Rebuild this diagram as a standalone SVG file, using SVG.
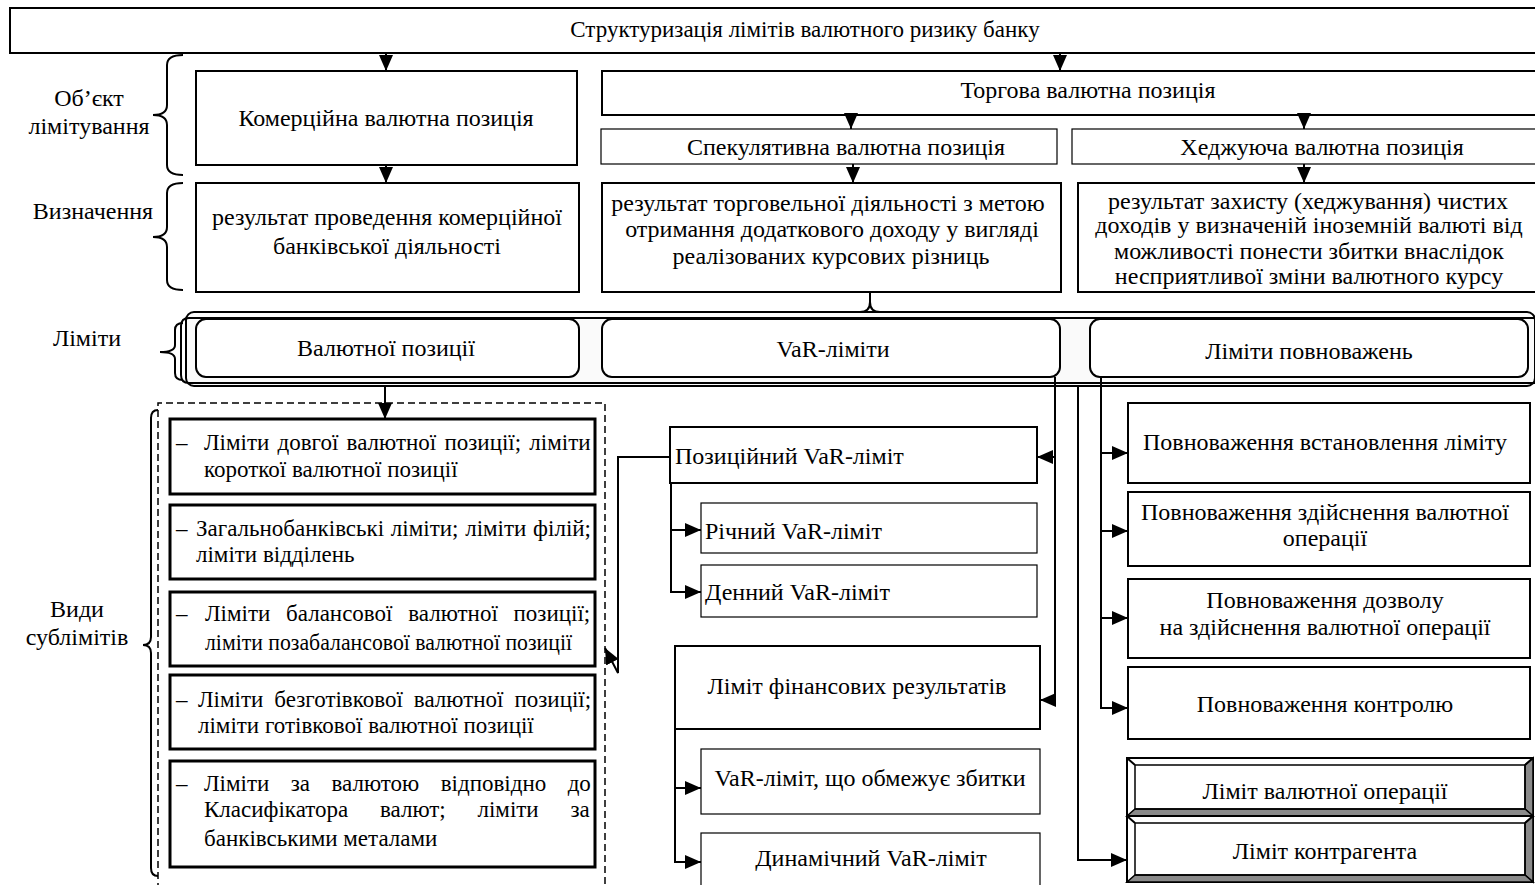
<svg xmlns="http://www.w3.org/2000/svg" width="1535" height="885" viewBox="0 0 1535 885">
<defs>
<style>
.t{font-family:"Liberation Serif","Times New Roman",serif;font-size:24px;fill:#000}
.s{font-family:"Liberation Serif","Times New Roman",serif;font-size:23px;fill:#000}
.ttl{font-size:23px}
.m{text-anchor:middle}
.bx{fill:#fff;stroke:#000;stroke-width:2}
.thin{stroke-width:1.2}
.thick{stroke-width:3}
.c{fill:none;stroke:#000;stroke-width:2}
.cm{fill:none;stroke:#000;stroke-width:2;marker-end:url(#ah)}
.br{fill:none;stroke:#000;stroke-width:2}
.bev{fill:#8a8a8a;stroke:#000;stroke-width:1.5}
</style>
<marker id="ah" markerWidth="16" markerHeight="14" refX="16" refY="7" orient="auto" markerUnits="userSpaceOnUse"><path d="M0,0 L16,7 L0,14 Z" fill="#000"/></marker>
</defs>
<rect width="1535" height="885" fill="#fff"/>

<g id="labels">
<text class="t m" x="89" y="106">Об’єкт</text>
<text class="t m" x="89" y="134">лімітування</text>
<text class="t m" x="93" y="219">Визначення</text>
<text class="t m" x="87" y="346">Ліміти</text>
<text class="t m" x="77" y="617">Види</text>
<text class="t m" x="77" y="645">сублімітів</text>
</g>

<g id="braces">
<path class="br" d="M183,55 Q167,55 167,65 V105 Q167,115 153,115 Q167,115 167,125 V165 Q167,175 183,175"/>
<path class="br" d="M183,183 Q167,183 167,193 V227 Q167,237 153,237 Q167,237 167,247 V280 Q167,290 183,290"/>
<path class="br" d="M183,323 Q175,323 175,330 V345 Q175,352 160,352 Q175,352 175,359 V373 Q175,380 183,380"/>
<path class="br" d="M158,410 Q151,410 151,418 V637 Q151,645 143,645 Q151,645 151,653 V868 Q151,876 158,876"/>
</g>

<g id="title">
<rect class="bx" x="10" y="8" width="1540" height="45"/>
<text class="t ttl m" x="805" y="37">Структуризація лімітів валютного ризику банку</text>
</g>

<g id="commercial">
<rect class="bx" x="196" y="71" width="381" height="94"/>
<text class="t m" x="386" y="126">Комерційна валютна позиція</text>
</g>
<g id="def-commercial">
<rect class="bx" x="196" y="183" width="383" height="109"/>
<text class="t m" x="387" y="225">результат проведення комерційної</text>
<text class="t m" x="387" y="254">банківської діяльності</text>
</g>

<g id="trading">
<rect class="bx" x="602" y="71" width="945" height="44"/>
<text class="t m" x="1088" y="98">Торгова валютна позиція</text>
</g>
<g id="speculative">
<rect class="bx thin" x="601" y="129" width="456" height="35"/>
<text class="t m" x="846" y="155">Спекулятивна валютна позиція</text>
</g>
<g id="hedging">
<rect class="bx thin" x="1072" y="129" width="475" height="35"/>
<text class="t m" x="1322" y="155">Хеджуюча валютна позиція</text>
</g>
<g id="def-speculative">
<rect class="bx" x="602" y="183" width="459" height="109"/>
<text class="t m" x="828" y="211">результат торговельної діяльності з метою</text>
<text class="t m" x="832" y="237">отримання додаткового доходу у вигляді</text>
<text class="t m" x="831" y="264">реалізованих курсових різниць</text>
</g>
<g id="def-hedging">
<rect class="bx" x="1078" y="183" width="470" height="109"/>
<text class="t m" x="1308" y="209">результат захисту (хеджування) чистих</text>
<text class="t m" x="1309" y="233">доходів у визначеній іноземній валюті від</text>
<text class="t m" x="1309" y="259">можливості понести збитки внаслідок</text>
<text class="t m" x="1309" y="284">несприятливої зміни валютного курсу</text>
</g>

<g id="limits-frame">
<path class="c" d="M860,312 Q870,312 870,302 V293 M880,312 Q870,312 870,302"/>
<rect x="186" y="312" width="1349" height="74" rx="8" fill="#fafafa" stroke="#000" stroke-width="2"/>
<path class="c" stroke-width="1.5" d="M1540,318 H189 Q181,318 181,326 V375 Q181,383 189,383 H1540"/>
</g>
<g id="limit-currency">
<rect class="bx" x="196" y="319" width="383" height="58" rx="10"/>
<text class="t m" x="386" y="356">Валютної позиції</text>
</g>
<g id="limit-var">
<rect class="bx" x="602" y="319" width="458" height="58" rx="10"/>
<text class="t m" x="833" y="357">VaR-ліміти</text>
</g>
<g id="limit-authority">
<rect class="bx" x="1090" y="319" width="438" height="58" rx="10"/>
<text class="t m" x="1309" y="359">Ліміти повноважень</text>
</g>

<g id="sublimits">
<path fill="none" stroke="#000" stroke-width="1.5" stroke-dasharray="7,4" d="M158,890 V403 H605 V890"/>
<g id="sub1">
<rect class="bx thick" x="170" y="419" width="425" height="75"/>
<text class="s" x="176" y="450">–</text>
<text class="s" x="204" y="450" style="word-spacing:2.5px">Ліміти довгої валютної позиції; ліміти</text>
<text class="s" x="204" y="477">короткої валютної позиції</text>
</g>
<g id="sub2">
<rect class="bx thick" x="170" y="505" width="425" height="74"/>
<text class="s" x="176" y="536">–</text>
<text class="s" x="196" y="536" style="word-spacing:1px">Загальнобанківські ліміти; ліміти філій;</text>
<text class="s" x="196" y="562">ліміти відділень</text>
</g>
<g id="sub3">
<rect class="bx thick" x="170" y="592" width="425" height="74"/>
<text class="s" x="176" y="621">–</text>
<text class="s" x="205" y="621" style="word-spacing:10px">Ліміти балансової валютної позиції;</text>
<text class="s" x="205" y="650" textLength="367" lengthAdjust="spacingAndGlyphs">ліміти позабалансової валютної позиції</text>
</g>
<g id="sub4">
<rect class="bx thick" x="170" y="675" width="425" height="74"/>
<text class="s" x="176" y="707">–</text>
<text class="s" x="198" y="707" style="word-spacing:5.3px">Ліміти безготівкової валютної позиції;</text>
<text class="s" x="198" y="733">ліміти готівкової валютної позиції</text>
</g>
<g id="sub5">
<rect class="bx thick" x="170" y="761" width="425" height="106"/>
<text class="s" x="176" y="791">–</text>
<text class="s" x="204" y="791" style="word-spacing:15.7px">Ліміти за валютою відповідно до</text>
<text class="s" x="204" y="817" style="word-spacing:26px">Класифікатора валют; ліміти за</text>
<text class="s" x="204" y="846">банківськими металами</text>
</g>
</g>

<g id="var-position">
<rect class="bx" x="670" y="427" width="367" height="56"/>
<text class="t" x="675" y="464">Позиційний VaR-ліміт</text>
</g>
<g id="var-annual">
<rect class="bx thin" x="701" y="503" width="336" height="50"/>
<text class="t" x="705" y="539">Річний VaR-ліміт</text>
</g>
<g id="var-daily">
<rect class="bx thin" x="701" y="565" width="336" height="52"/>
<text class="t" x="705" y="600">Денний VaR-ліміт</text>
</g>
<g id="var-financial">
<rect class="bx" x="675" y="646" width="365" height="83"/>
<text class="t m" x="857" y="694">Ліміт фінансових результатів</text>
</g>
<g id="var-loss">
<rect class="bx thin" x="701" y="749" width="339" height="65"/>
<text class="t m" x="870" y="786">VaR-ліміт, що обмежує збитки</text>
</g>
<g id="var-dynamic">
<rect class="bx thin" x="701" y="833" width="339" height="62"/>
<text class="t m" x="871" y="866">Динамічний VaR-ліміт</text>
</g>

<g id="auth-set">
<rect class="bx" x="1128" y="403" width="402" height="80"/>
<text class="t m" x="1325" y="450">Повноваження встановлення ліміту</text>
</g>
<g id="auth-exec">
<rect class="bx" x="1128" y="492" width="402" height="74"/>
<text class="t m" x="1325" y="520">Повноваження здійснення валютної</text>
<text class="t m" x="1325" y="546">операції</text>
</g>
<g id="auth-permit">
<rect class="bx" x="1128" y="579" width="402" height="79"/>
<text class="t m" x="1325" y="608">Повноваження дозволу</text>
<text class="t m" x="1325" y="635">на здійснення валютної операції</text>
</g>
<g id="auth-control">
<rect class="bx" x="1128" y="667" width="402" height="72"/>
<text class="t m" x="1325" y="712">Повноваження контролю</text>
</g>
<g id="limit-operation">
<rect x="1127" y="758" width="406" height="58" fill="#fff" stroke="#000" stroke-width="2"/>
<polygon class="bev" points="1533,758 1533,816 1525,809 1525,765"/>
<polygon class="bev" fill="#a8a8a8" points="1127,816 1533,816 1525,809 1135,809"/>
<path class="c" stroke-width="1.5" d="M1127,758 L1135,765 M1533,758 L1525,765"/>
<rect x="1135" y="765" width="390" height="44" fill="none" stroke="#000" stroke-width="1.5"/>
<text class="t m" x="1325" y="799">Ліміт валютної операції</text>
</g>
<g id="limit-counterparty">
<rect x="1127" y="816" width="406" height="66" fill="#fff" stroke="#000" stroke-width="2"/>
<polygon class="bev" points="1533,816 1533,882 1525,875 1525,823"/>
<polygon class="bev" fill="#a8a8a8" points="1127,882 1533,882 1525,875 1135,875"/>
<path class="c" stroke-width="1.5" d="M1127,816 L1135,823 M1533,816 L1525,823"/>
<rect x="1135" y="823" width="390" height="52" fill="none" stroke="#000" stroke-width="1.5"/>
<text class="t m" x="1325" y="859">Ліміт контрагента</text>
</g>

<g id="connectors">
<path class="cm" d="M386,53 V71"/>
<path class="cm" d="M1060,53 V71"/>
<path class="cm" d="M386,165 V183"/>
<path class="cm" d="M851,115 V129"/>
<path class="cm" d="M1304,115 V129"/>
<path class="cm" d="M853,164 V183"/>
<path class="cm" d="M1304,164 V183"/>
<path class="cm" d="M385,386 V419"/>
<path class="cm" d="M1055,377 V700 H1040"/>
<path class="cm" d="M1055,457 H1037"/>
<path class="cm" d="M1078,386 V860 H1127"/>
<path class="cm" d="M1101,377 V708 H1128"/>
<path class="cm" d="M1101,453 H1128"/>
<path class="cm" d="M1101,531 H1128"/>
<path class="cm" d="M1101,618 H1128"/>
<path class="cm" d="M670,457 H618 V673 L605,648"/>
<path class="cm" d="M671,483 V592 H701"/>
<path class="cm" d="M671,530 H701"/>
<path class="cm" d="M675,729 V862 H701"/>
<path class="cm" d="M675,788 H701"/>
</g>
</svg>
